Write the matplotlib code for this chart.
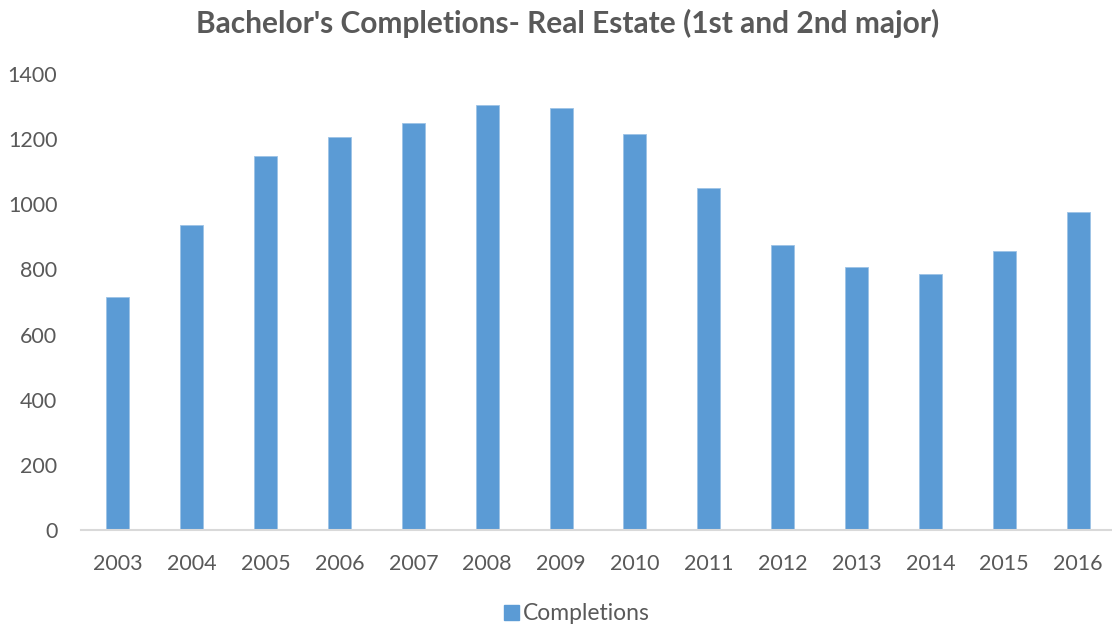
import matplotlib
matplotlib.use("Agg")
import matplotlib.pyplot as plt
from matplotlib.patches import Patch

years = ["2003", "2004", "2005", "2006", "2007", "2008", "2009",
         "2010", "2011", "2012", "2013", "2014", "2015", "2016"]
completions = [715, 936, 1147, 1207, 1250, 1304, 1295,
               1215, 1051, 874, 807, 786, 856, 975]
yticks = [0, 200, 400, 600, 800, 1000, 1200, 1400]

plt.rcParams['font.family'] = ['Lato', 'DejaVu Sans']
txt = '#595959'
bar_color = '#5B9BD5'

fig = plt.figure(figsize=(11.12, 6.28), dpi=100)
ax = fig.add_axes([81/1112, 1 - 530/628, (1115-81)/1112, (530-74)/628])

x = list(range(len(years)))
ax.bar(x, completions, width=0.31, color=bar_color, edgecolor='#9DC3E6', linewidth=0.6)
ax.set_xlim(-0.5, len(years) - 0.5)
ax.set_ylim(0, 1400)
ax.set_yticks(yticks)
ax.set_yticklabels([str(v) for v in yticks], fontsize=15.5, color=txt)
ax.set_xticks(x)
ax.set_xticklabels(years, fontsize=15.5, color=txt)
ax.tick_params(axis='both', length=0)
ax.tick_params(axis='y', pad=17)
ax.tick_params(axis='x', pad=17)
for s in ['top', 'right', 'left']:
    ax.spines[s].set_visible(False)
ax.spines['bottom'].set_color('#D9D9D9')
ax.spines['bottom'].set_linewidth(1.5)

fig.text(568/1112, 1 - 23/628, "Bachelor's Completions- Real Estate (1st and 2nd major)",
         ha='center', va='center', fontsize=21.5, fontweight='bold', color=txt)

handle = Patch(facecolor=bar_color, edgecolor=bar_color)
fig.legend([handle], ['Completions'], loc='center', bbox_to_anchor=(577/1112, 1 - 614/628),
           frameon=False, fontsize=16.5, labelcolor=txt, handlelength=0.65, handleheight=0.65,
           handletextpad=0.2)

fig.savefig('out.png', dpi=100)
